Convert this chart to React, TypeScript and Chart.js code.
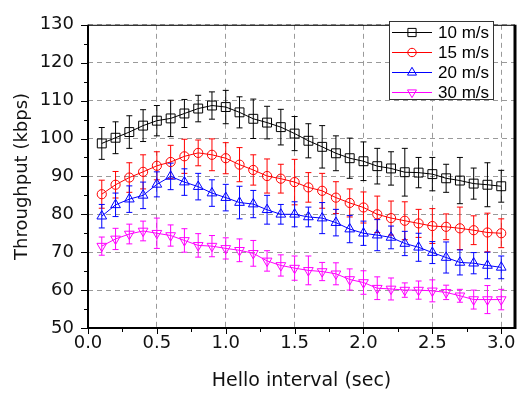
import React, { useEffect, useRef } from 'react';
import { Chart, registerables } from 'chart.js';
import { drawPoint } from 'chart.js/helpers';

Chart.register(...registerables);

// ---------------- data ----------------
const helloInterval = [0.1, 0.2, 0.3, 0.4, 0.5, 0.6, 0.7, 0.8, 0.9, 1.0, 1.1, 1.2, 1.3, 1.4, 1.5, 1.6, 1.7, 1.8, 1.9, 2.0, 2.1, 2.2, 2.3, 2.4, 2.5, 2.6, 2.7, 2.8, 2.9, 3.0];

const seriesNames = ['10 m/s', '15 m/s', '20 m/s', '30 m/s'];

const throughput10 = [98.7, 100.2, 101.7, 103.4, 104.7, 105.3, 106.6, 107.9, 108.7, 108.3, 106.9, 105.2, 104.2, 103.0, 101.3, 99.4, 97.8, 96.1, 94.8, 94.0, 92.7, 92.1, 91.1, 91.0, 90.6, 89.5, 88.9, 88.1, 87.8, 87.4];
const error10 = [4.2, 4.2, 4.3, 4.2, 4.0, 4.8, 3.7, 3.5, 3.6, 4.4, 4.1, 5.2, 4.3, 4.7, 4.5, 4.5, 5.6, 4.6, 5.3, 5.1, 4.7, 4.4, 6.3, 4.0, 4.4, 3.7, 6.1, 4.1, 5.8, 4.2];

const throughput15 = [85.3, 87.8, 89.7, 91.2, 92.8, 93.8, 95.3, 96.2, 95.7, 94.8, 93.1, 91.7, 90.1, 89.4, 88.5, 87.1, 86.2, 84.4, 83.0, 81.8, 80.0, 79.0, 78.3, 77.6, 76.9, 76.7, 76.3, 75.8, 75.2, 75.0];
const error15 = [3.7, 3.5, 3.9, 4.5, 3.7, 4.4, 4.5, 3.4, 4.2, 4.1, 4.5, 4.0, 4.5, 3.8, 6.0, 3.9, 4.6, 4.2, 3.7, 4.1, 4.8, 4.5, 5.0, 3.7, 4.6, 3.4, 5.6, 3.8, 5.1, 3.8];

const throughput20 = [79.5, 82.5, 84.0, 85.0, 87.9, 90.0, 88.5, 87.3, 85.6, 84.4, 83.1, 82.7, 81.2, 80.0, 80.0, 79.3, 79.0, 77.8, 76.1, 75.0, 74.5, 73.9, 72.3, 71.3, 69.9, 68.6, 67.3, 67.1, 66.5, 66.0];
const error20 = [3.1, 3.1, 3.5, 3.5, 3.3, 3.5, 3.5, 3.5, 3.5, 3.5, 4.3, 3.6, 3.8, 2.6, 3.3, 2.6, 4.1, 3.5, 3.6, 3.2, 4.1, 3.0, 3.2, 3.7, 2.9, 4.1, 3.3, 2.8, 3.5, 3.0];

const throughput30 = [71.6, 73.5, 74.8, 75.6, 75.0, 74.4, 73.1, 71.8, 71.6, 71.0, 70.5, 69.7, 67.7, 66.5, 65.8, 65.2, 64.9, 64.3, 62.8, 62.0, 60.5, 60.3, 60.0, 60.0, 59.8, 59.4, 58.5, 57.5, 57.5, 57.5];
const error30 = [2.4, 2.8, 2.6, 2.6, 4.0, 2.8, 3.1, 3.1, 2.8, 2.8, 3.0, 3.4, 2.7, 2.8, 3.2, 3.8, 2.4, 2.9, 2.8, 3.1, 3.0, 2.9, 1.9, 2.4, 2.9, 1.9, 1.7, 2.5, 3.7, 2.7];

const allThroughput = [throughput10, throughput15, throughput20, throughput30];
const allErrors = [error10, error15, error20, error30];

// ---------------- styles ----------------
const seriesColors = ['#000000', '#ff0000', '#0000ff', '#ff00ff'];
const seriesPointStyles = ['rect', 'circle', 'triangle', 'triangle'];
const seriesRotations = [0, 0, 0, 180];
const seriesRadii = [6.3, 4.6, 5.6, 5.6];
const legendRadii = [5.8, 4.2, 5.2, 5.2];

const AXIS_FONT = "'DejaVu Sans', sans-serif";
const LEGEND_FONT = "'Liberation Sans', Arial, sans-serif";

const errorBarPlugin = {
  id: 'errorBars',
  beforeDatasetsDraw(chart: any) {
    const { ctx } = chart;
    const xs = chart.scales.x;
    const ys = chart.scales.y;
    ctx.save();
    chart.data.datasets.forEach((ds: any, di: number) => {
      const errs = allErrors[di];
      ctx.strokeStyle = seriesColors[di];
      ctx.lineWidth = 1;
      ds.data.forEach((p: any, i: number) => {
        const px = xs.getPixelForValue(p.x);
        const top = ys.getPixelForValue(p.y + errs[i]);
        const bot = ys.getPixelForValue(p.y - errs[i]);
        ctx.beginPath();
        ctx.moveTo(px, top);
        ctx.lineTo(px, bot);
        ctx.moveTo(px - 3, top);
        ctx.lineTo(px + 3, top);
        ctx.moveTo(px - 3, bot);
        ctx.lineTo(px + 3, bot);
        ctx.stroke();
      });
    });
    ctx.restore();
  },
};

const framePlugin = {
  id: 'frameTicks',
  afterDraw(chart: any) {
    const { ctx, chartArea } = chart;
    const { left, right, top, bottom } = chartArea;
    const xs = chart.scales.x;
    const ys = chart.scales.y;
    ctx.save();
    ctx.strokeStyle = '#000';
    ctx.lineWidth = 1;
    // y ticks (major every 10, minor every 5)
    for (let v = ys.min; v <= ys.max + 1e-9; v += 5) {
      const py = Math.round(ys.getPixelForValue(v)) + 0.5;
      const len = Math.abs(v % 10) < 1e-9 ? 7 : 4;
      ctx.beginPath();
      ctx.moveTo(left - len, py);
      ctx.lineTo(left, py);
      ctx.stroke();
    }
    // x ticks (major every 0.5, minor every 0.25)
    for (let k = 0; k * 0.25 <= xs.max + 1e-9; k++) {
      const px = Math.round(xs.getPixelForValue(k * 0.25)) + 0.5;
      const len = k % 2 === 0 ? 6 : 4;
      ctx.beginPath();
      ctx.moveTo(px, bottom);
      ctx.lineTo(px, bottom + len);
      ctx.stroke();
    }
    // frame
    ctx.beginPath();
    ctx.lineWidth = 1;
    ctx.moveTo(left, top + 0.5);
    ctx.lineTo(right, top + 0.5);
    ctx.stroke();
    ctx.beginPath();
    ctx.lineWidth = 2;
    ctx.moveTo(left, top);
    ctx.lineTo(left, bottom + 1);
    ctx.moveTo(left - 1, bottom);
    ctx.lineTo(right, bottom);
    ctx.stroke();
    ctx.beginPath();
    ctx.lineWidth = 3;
    ctx.moveTo(right, top);
    ctx.lineTo(right, bottom + 1);
    ctx.stroke();
    ctx.restore();
  },
};

const legendPlugin = {
  id: 'insideLegend',
  afterDraw(chart: any) {
    const { ctx } = chart;
    const bx = 389.5, by = 21.5, bw = 104, bh = 78;
    ctx.save();
    ctx.fillStyle = '#fff';
    ctx.fillRect(bx, by, bw, bh);
    ctx.strokeStyle = '#333';
    ctx.lineWidth = 1;
    ctx.strokeRect(bx, by, bw, bh);
    seriesNames.forEach((name, i) => {
      const cy = 32 + i * 20;
      ctx.strokeStyle = seriesColors[i];
      ctx.lineWidth = 1;
      ctx.beginPath();
      ctx.moveTo(392, cy + 0.5);
      ctx.lineTo(432, cy + 0.5);
      ctx.stroke();
      ctx.fillStyle = 'rgba(0,0,0,0)';
      drawPoint(ctx, {
        pointStyle: seriesPointStyles[i],
        rotation: seriesRotations[i],
        radius: legendRadii[i],
        borderWidth: 1,
      } as any, 412, cy + 0.5);
      ctx.fillStyle = '#000';
      ctx.font = `17px ${LEGEND_FONT}`;
      ctx.textAlign = 'left';
      ctx.textBaseline = 'middle';
      ctx.fillText(name, 438, cy + 1);
    });
    ctx.restore();
  },
};

export default function App() {
  const canvasRef = useRef<HTMLCanvasElement | null>(null);

  useEffect(() => {
    const canvas = canvasRef.current;
    if (!canvas) return;
    const datasets = allThroughput.map((arr, i) => ({
      label: seriesNames[i],
      data: helloInterval.map((x, j) => ({ x, y: arr[j] })),
      borderColor: seriesColors[i],
      backgroundColor: 'rgba(0,0,0,0)',
      borderWidth: 1,
      pointStyle: seriesPointStyles[i],
      pointRotation: seriesRotations[i],
      pointRadius: seriesRadii[i],
      pointBorderWidth: 1,
      pointBorderColor: seriesColors[i],
      pointBackgroundColor: 'rgba(0,0,0,0)',
      tension: 0,
    }));

    const gridColor = '#9a9a9a';
    const chart = new Chart(canvas, {
      type: 'line',
      data: { datasets },
      plugins: [errorBarPlugin, framePlugin, legendPlugin],
      options: {
        responsive: false,
        animation: false,
        events: [],
        layout: { padding: { top: 14, right: 8, left: 0, bottom: 0 } },
        plugins: {
          legend: { display: false },
          tooltip: { enabled: false },
        },
        scales: {
          x: {
            type: 'linear',
            min: 0,
            max: 3.1,
            afterFit: (s: any) => { s.height = 68; },
            ticks: {
              stepSize: 0.5,
              includeBounds: false,
              autoSkip: false,
              maxRotation: 0,
              padding: 5,
              color: '#111',
              font: { family: AXIS_FONT, size: 18 },
              callback: (v: any) => Number(v).toFixed(1),
            },
            grid: { color: gridColor, lineWidth: 1, drawTicks: false },
            border: { display: false, dash: [5, 4] },
            title: {
              display: true,
              text: 'Hello interval (sec)',
              color: '#111',
              font: { family: AXIS_FONT, size: 19 },
              padding: { top: 0, bottom: 4 },
            },
          },
          y: {
            type: 'linear',
            min: 50,
            max: 130,
            afterFit: (s: any) => { s.width = 88; },
            ticks: {
              stepSize: 10,
              padding: 14,
              color: '#111',
              font: { family: AXIS_FONT, size: 18 },
            },
            grid: { color: gridColor, lineWidth: 1, drawTicks: false },
            border: { display: false, dash: [5, 4] },
            title: {
              display: true,
              text: 'Throughput (kbps)',
              color: '#111',
              font: { family: AXIS_FONT, size: 18 },
              padding: { top: 12, bottom: 0 },
            },
          },
        },
      } as any,
    });
    return () => chart.destroy();
  }, []);

  return (
    <div style={{ position: 'fixed', left: 0, top: 0, width: 523, height: 396, background: '#fff' }}>
      <canvas ref={canvasRef} width={523} height={396} style={{ display: 'block' }} />
    </div>
  );
}
